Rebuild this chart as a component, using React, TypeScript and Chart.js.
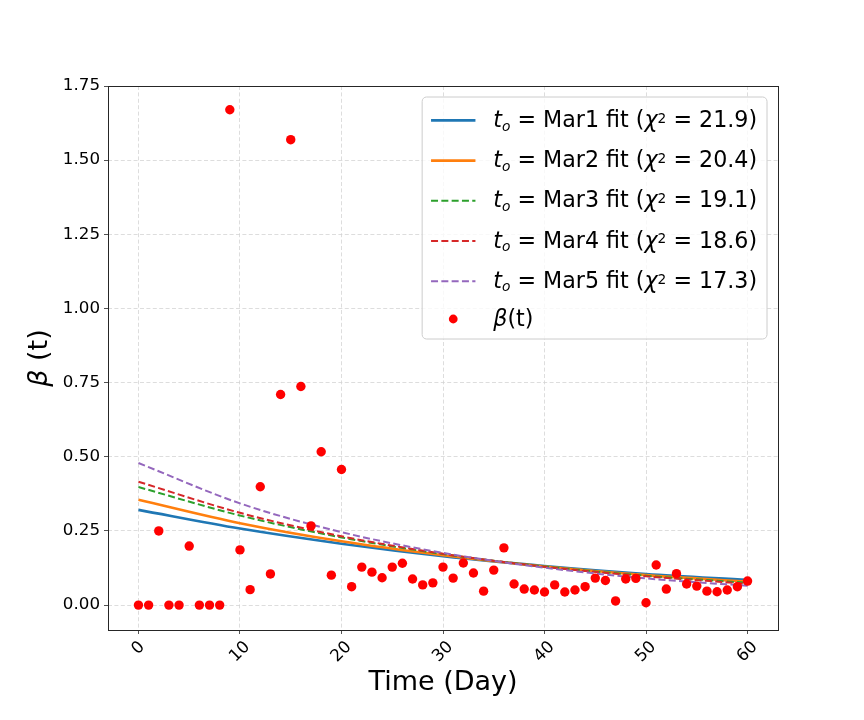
import { useEffect, useRef } from 'react';
import { Chart, registerables } from 'chart.js';
import type { Plugin } from 'chart.js';

Chart.register(...registerables);

// beta(t) for day 0..60
const betaValues = [
  0, 0, 0.25, 0, 0, 0.199, 0, 0, 0, 1.67,
  0.186, 0.052, 0.399, 0.105, 0.71, 1.569, 0.737, 0.267, 0.517, 0.101,
  0.457, 0.062, 0.128, 0.111, 0.092, 0.128, 0.141, 0.088, 0.068, 0.075,
  0.128, 0.091, 0.142, 0.108, 0.047, 0.118, 0.193, 0.071, 0.054, 0.051,
  0.044, 0.068, 0.044, 0.051, 0.062, 0.091, 0.083, 0.014, 0.088, 0.09,
  0.008, 0.135, 0.054, 0.106, 0.071, 0.064, 0.047, 0.045, 0.051, 0.062,
  0.081,
];

// fitted curves, read at these days
const fitDays = [0, 10, 20, 30, 40, 50, 60];
const fitMar1 = [0.321, 0.258, 0.207, 0.165, 0.132, 0.105, 0.085];
const fitMar2 = [0.355, 0.276, 0.215, 0.168, 0.13, 0.101, 0.079];
const fitMar3 = [0.398, 0.302, 0.228, 0.172, 0.13, 0.099, 0.075];
const fitMar4 = [0.416, 0.311, 0.232, 0.173, 0.129, 0.097, 0.072];
const fitMar5 = [0.479, 0.343, 0.246, 0.176, 0.126, 0.09, 0.065];

const fitNames = ['Mar1', 'Mar2', 'Mar3', 'Mar4', 'Mar5'];
const chiSquared = ['21.9', '20.4', '19.1', '18.6', '17.3'];
const fitColors = ['#1f77b4', '#ff7f0e', '#2ca02c', '#d62728', '#9467bd'];
const fitDashed = [false, false, true, true, true];

const xTicks = [0, 10, 20, 30, 40, 50, 60];
const yTicks = [0, 0.25, 0.5, 0.75, 1.0, 1.25, 1.5, 1.75];

const FONT = "'DejaVu Sans', sans-serif";

type Seg = { text: string; italic?: boolean; pos?: 'sub' | 'sup' };

function segFont(s: Seg, size: number) {
  const fs = s.pos ? size * 0.62 : size;
  return `${s.italic ? 'italic ' : ''}${fs}px ${FONT}`;
}

function richWidth(ctx: CanvasRenderingContext2D, segs: Seg[], size: number) {
  let w = 0;
  for (const s of segs) {
    ctx.font = segFont(s, size);
    w += ctx.measureText(s.text).width;
  }
  return w;
}

function drawRich(ctx: CanvasRenderingContext2D, segs: Seg[], x: number, baseline: number, size: number) {
  ctx.textAlign = 'left';
  ctx.textBaseline = 'alphabetic';
  let cx = x;
  for (const s of segs) {
    ctx.font = segFont(s, size);
    let y = baseline;
    if (s.pos === 'sub') y += size * 0.16;
    if (s.pos === 'sup') y -= size * 0.19;
    ctx.fillText(s.text, cx, y);
    cx += ctx.measureText(s.text).width;
  }
}

function fitLabel(i: number): Seg[] {
  return [
    { text: 't', italic: true },
    { text: 'o', italic: true, pos: 'sub' },
    { text: ` = ${fitNames[i]} fit (` },
    { text: 'χ', italic: true },
    { text: '2', pos: 'sup' },
    { text: ` = ${chiSquared[i]})` },
  ];
}

const decorations: Plugin = {
  id: 'decorations',
  afterDraw(chart) {
    const { ctx, chartArea } = chart;
    const { left, right, top, bottom } = chartArea;
    const xs = chart.scales.x;
    ctx.save();

    // frame
    ctx.strokeStyle = '#262626';
    ctx.lineWidth = 1;
    ctx.strokeRect(left + 0.5, top + 0.5, right - left, bottom - top);

    // rotated x tick labels
    ctx.fillStyle = '#000';
    const tickSize = 16.7;
    ctx.font = `${tickSize}px ${FONT}`;
    for (const v of xTicks) {
      const label = String(v);
      const w = ctx.measureText(label).width;
      const half = ((w + tickSize * 1.17) * Math.SQRT1_2) / 2;
      ctx.save();
      ctx.translate(xs.getPixelForValue(v), bottom + 7.5 + half);
      ctx.rotate(-Math.PI / 4);
      ctx.textAlign = 'center';
      ctx.textBaseline = 'middle';
      ctx.fillText(label, 0, 0);
      ctx.restore();
    }

    // axis titles
    const titleSize = 27;
    ctx.font = `${titleSize}px ${FONT}`;
    ctx.textAlign = 'center';
    ctx.textBaseline = 'alphabetic';
    ctx.fillText('Time (Day)', (left + right) / 2, 690);

    const ySegs: Seg[] = [{ text: 'β', italic: true }, { text: ' (t)' }];
    const yw = richWidth(ctx, ySegs, titleSize);
    ctx.save();
    ctx.translate(47, (top + bottom) / 2);
    ctx.rotate(-Math.PI / 2);
    drawRich(ctx, ySegs, -yw / 2, 0, titleSize);
    ctx.restore();

    // legend
    const fs = 22.2;
    const labels = fitNames.map((_, i) => fitLabel(i));
    const betaSegs: Seg[] = [{ text: 'β', italic: true }, { text: '(t)' }];
    let maxW = richWidth(ctx, betaSegs, fs);
    for (const l of labels) maxW = Math.max(maxW, richWidth(ctx, l, fs));
    const pad = 8.9;
    const handleLen = 44.4;
    const handlePad = 17.8;
    const boxRight = right - 11;
    const boxTop = top + 11;
    const boxW = pad + handleLen + handlePad + maxW + pad + 1;
    const boxH = 242;
    const boxLeft = boxRight - boxW;
    ctx.beginPath();
    ctx.roundRect(boxLeft, boxTop, boxW, boxH, 4.4);
    ctx.fillStyle = 'rgba(255,255,255,0.8)';
    ctx.fill();
    ctx.strokeStyle = '#cccccc';
    ctx.lineWidth = 1;
    ctx.stroke();

    const hx = boxLeft + pad;
    const tx = hx + handleLen + handlePad;
    for (let i = 0; i < labels.length; i++) {
      const ry = boxTop + 23.4 + i * 40.2;
      ctx.save();
      ctx.strokeStyle = fitColors[i];
      ctx.lineWidth = fitDashed[i] ? 2 : 2.6;
      ctx.setLineDash(fitDashed[i] ? [7, 3.3] : []);
      ctx.beginPath();
      ctx.moveTo(hx, ry);
      ctx.lineTo(hx + handleLen, ry);
      ctx.stroke();
      ctx.restore();
      ctx.fillStyle = '#000';
      drawRich(ctx, labels[i], tx, ry + fs * 0.3, fs);
    }
    const by = boxTop + 222;
    ctx.fillStyle = 'red';
    ctx.beginPath();
    ctx.arc(hx + handleLen / 2, by, 4.4, 0, Math.PI * 2);
    ctx.fill();
    ctx.fillStyle = '#000';
    drawRich(ctx, betaSegs, tx, by + fs * 0.3, fs);

    ctx.restore();
  },
};

const fitSeries = [fitMar1, fitMar2, fitMar3, fitMar4, fitMar5];

export default function App() {
  const canvasRef = useRef<HTMLCanvasElement | null>(null);

  useEffect(() => {
    if (!canvasRef.current) {
      return;
    }

    const gridColor = '#d4d4d4';
    const fitSets = fitSeries.map((vals, i) => ({
      label: `t_o = ${fitNames[i]} fit (χ² = ${chiSquared[i]})`,
      data: fitDays.map((d, j) => ({ x: d, y: vals[j] })),
      showLine: true,
      borderColor: fitColors[i],
      backgroundColor: fitColors[i],
      borderWidth: fitDashed[i] ? 2 : 2.6,
      borderDash: fitDashed[i] ? [7, 3.3] : [],
      pointRadius: 0,
      cubicInterpolationMode: 'monotone' as const,
      fill: false,
      order: 6 - i,
    }));

    const chart = new Chart(canvasRef.current, {
      type: 'scatter',
      data: {
        datasets: [
          ...fitSets,
          {
            label: 'β(t)',
            data: betaValues.map((v, day) => ({ x: day, y: v })),
            backgroundColor: 'red',
            borderWidth: 0,
            pointRadius: 4.7,
            order: 0,
          },
        ],
      },
      options: {
        animation: false,
        responsive: true,
        maintainAspectRatio: false,
        layout: { padding: { top: 86, right: 86, left: 0, bottom: 0 } },
        plugins: {
          legend: { display: false },
          tooltip: { enabled: false },
        },
        scales: {
          x: {
            type: 'linear',
            min: -3,
            max: 63,
            afterBuildTicks: (s) => {
              s.ticks = xTicks.map((v) => ({ value: v }));
            },
            afterFit: (s) => {
              s.height = 90;
            },
            ticks: { display: false },
            grid: {
              color: gridColor,
              lineWidth: 0.8,
              drawTicks: true,
              tickLength: 4,
              tickColor: '#262626',
              tickWidth: 0.8,
              tickBorderDash: [],
            },
            border: { display: false, dash: [4, 2.4] },
          },
          y: {
            type: 'linear',
            min: -0.084,
            max: 1.75,
            afterBuildTicks: (s) => {
              s.ticks = yTicks.map((v) => ({ value: v }));
            },
            afterFit: (s) => {
              s.width = 108;
            },
            ticks: {
              color: '#000',
              padding: 4,
              font: { family: FONT, size: 16.7 },
              callback: (v) => Number(v).toFixed(2),
            },
            grid: {
              color: gridColor,
              lineWidth: 0.8,
              drawTicks: true,
              tickLength: 4,
              tickColor: '#262626',
              tickWidth: 0.8,
              tickBorderDash: [],
            },
            border: { display: false, dash: [4, 2.4] },
          },
        },
      },
      plugins: [decorations],
    });

    return () => {
      chart.destroy();
    };
  }, []);

  return (
    <div style={{ position: 'absolute', left: 0, top: 0, width: 864, height: 720, background: '#fff' }}>
      <canvas ref={canvasRef} />
    </div>
  );
}
